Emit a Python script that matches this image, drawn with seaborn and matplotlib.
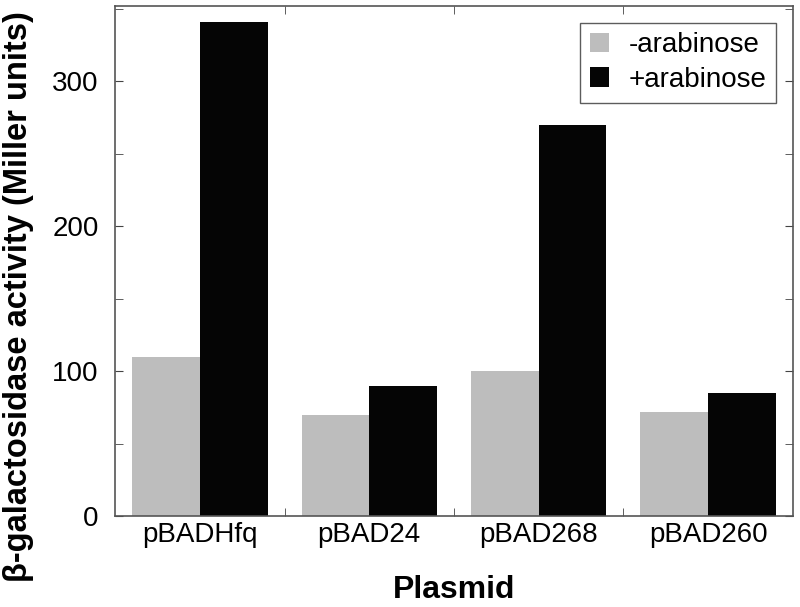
import matplotlib
matplotlib.use("Agg")
import matplotlib.pyplot as plt
import seaborn as sns
import pandas as pd
from matplotlib.ticker import MultipleLocator, FixedLocator

plasmids = ["pBADHfq", "pBAD24", "pBAD268", "pBAD260"]
minus_ara = [110, 70, 100, 72]
plus_ara = [341, 90, 270, 85]
conditions = ["-arabinose", "+arabinose"]

df = pd.DataFrame({
    "Plasmid": plasmids * 2,
    "Condition": [conditions[0]] * 4 + [conditions[1]] * 4,
    "Activity": minus_ara + plus_ara,
})

sns.set_style("ticks")
plt.rcParams['font.family'] = ['Liberation Sans', 'DejaVu Sans']
plt.rcParams['text.color'] = 'black'
plt.rcParams['axes.labelcolor'] = 'black'
plt.rcParams['xtick.labelcolor'] = 'black'
plt.rcParams['ytick.labelcolor'] = 'black'

fig = plt.figure(figsize=(8, 6.07), dpi=100)
ax = fig.add_axes([0.144, 0.15, 0.847, 0.84])

sns.barplot(data=df, x="Plasmid", y="Activity", hue="Condition",
            palette=["#bdbdbd", "#050505"], width=0.8, saturation=1,
            edgecolor="none", ax=ax)

ax.set_xlim(-0.5, 3.5)
ax.set_ylim(0, 352)
ax.yaxis.set_major_locator(MultipleLocator(100))
ax.yaxis.set_minor_locator(MultipleLocator(50))
ax.set_xticks(range(4))
ax.set_xticklabels(plasmids, fontsize=20)
ax.xaxis.set_minor_locator(FixedLocator([0.5, 1.5, 2.5]))
ax.tick_params(axis="x", which="major", length=0, pad=4)
ax.tick_params(axis="x", which="minor", direction="in", length=6, top=True, bottom=True, color="#444")
ax.tick_params(axis="y", which="both", direction="in", length=6, left=True, right=True, color="#444", labelsize=20)
ax.tick_params(axis="y", which="major", pad=12)

for s in ax.spines.values():
    s.set_visible(True)
    s.set_color("#555555")
    s.set_linewidth(1.2)

ax.set_xlabel("Plasmid", fontsize=23, fontweight="bold", labelpad=20)
ax.set_ylabel("β-galactosidase activity (Miller units)", fontsize=23.5, fontweight="bold")
ax.yaxis.set_label_coords(-0.12, 0.43)

leg = ax.legend(loc="upper right", fontsize=20, frameon=True, fancybox=False,
                handlelength=0.7, handleheight=0.7, handletextpad=0.7,
                borderpad=0.35, labelspacing=0.3, borderaxespad=0.6)
leg.get_frame().set_edgecolor("#333333")
leg.get_frame().set_linewidth(1.0)
leg.set_title(None)

fig.savefig("out.png", dpi=100)
